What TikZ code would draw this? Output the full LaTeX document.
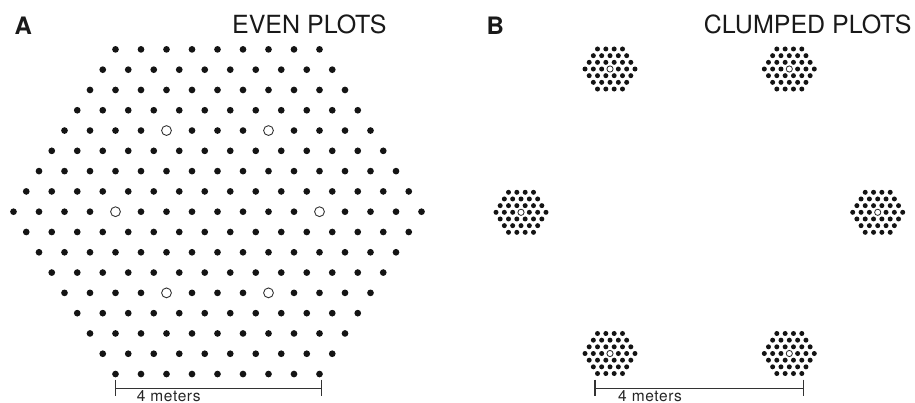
\documentclass[tikz,border=0pt]{standalone}
\usepackage{fontspec}
\setmainfont{TeX Gyre Heros}
\begin{document}
\begin{tikzpicture}[x=1pt,y=-1pt,
  dotA/.style={fill=black!92},
  openA/.style={draw=black!80,line width=0.9pt,fill=white},
  dotB/.style={fill=black!92},
  openB/.style={draw=black!85,line width=0.8pt,fill=white},
  bar/.style={draw=black!80,line width=1.2pt},
  title/.style={inner sep=0pt,anchor=base east,font=\fontsize{25}{25}\selectfont,text=black!90},
  panel/.style={inner sep=0pt,anchor=base west,font=\bfseries\fontsize{24}{24}\selectfont,text=black!90},
  scaletext/.style={inner sep=0pt,anchor=base west,font=\fontsize{15.5}{15.5}\selectfont\addfontfeature{LetterSpace=4},text=black!85}]
\useasboundingbox (0,0) rectangle (915,402);
% ---------- panel A: even plots ----------
\def\sA{25.5}\def\vA{20.29}\def\cxA{217.5}\def\cyA{211.7}
\foreach \r in {-8,...,8}{
  \pgfmathtruncatemacro\n{16-abs(\r)}
  \foreach \j in {0,...,\n}{
    \fill[dotA] ({\cxA+(\j-\n/2)*\sA},{\cyA+\r*\vA}) circle[radius=3.35];
  }
}
\foreach \dx/\dy in {-2/-4,2/-4,-4/0,4/0,-2/4,2/4}{
  \draw[openA] ({\cxA+\dx*\sA},{\cyA+\dy*\vA}) circle[radius=4.9];
}
% ---------- panel B: clumped plots ----------
\def\sB{8.33}\def\vB{6.67}
\foreach \cx/\cy in {610/69,789.3/69,521/212.3,877.7/212.3,610/353.5,789.3/353.5}{
  \foreach \r in {-3,...,3}{
    \pgfmathtruncatemacro\n{6-abs(\r)}
    \foreach \j in {0,...,\n}{
      \fill[dotB] ({\cx+(\j-\n/2)*\sB},{\cy+\r*\vB}) circle[radius=2.5];
    }
  }
  \draw[openB] (\cx,\cy) circle[radius=3.1];
}
% ---------- labels ----------
\node[panel] (labA) at (14.5,34.5) {A};
\node[panel] (labB) at (486.5,34.5) {B};
\node[title] (titA) at (386.7,33.2) {EVEN PLOTS};
\node[title] (titB) at (911.7,33.2) {CLUMPED PLOTS};
% ---------- scale bars ----------
\coordinate (a1) at (115.7,388.5);
\coordinate (a2) at (321.5,388.5);
\coordinate (a1t) at (115.7,379.5);
\coordinate (a1b) at (115.7,395.5);
\coordinate (a2t) at (321.5,379.5);
\coordinate (a2b) at (321.5,395.5);
\draw[bar] (a1) -- (a2);
\draw[bar] (a1t) -- (a1b);
\draw[bar] (a2t) -- (a2b);
\node[scaletext] (scA) at (136.7,401) {4 meters};
\coordinate (b1) at (595,388.5);
\coordinate (b2) at (803.3,388.5);
\coordinate (b1t) at (595,379.5);
\coordinate (b1b) at (595,395.5);
\coordinate (b2t) at (803.3,379.5);
\coordinate (b2b) at (803.3,395.5);
\draw[bar] (b1) -- (b2);
\draw[bar] (b1t) -- (b1b);
\draw[bar] (b2t) -- (b2b);
\node[scaletext] (scB) at (618,401) {4 meters};
\end{tikzpicture}
\end{document}
